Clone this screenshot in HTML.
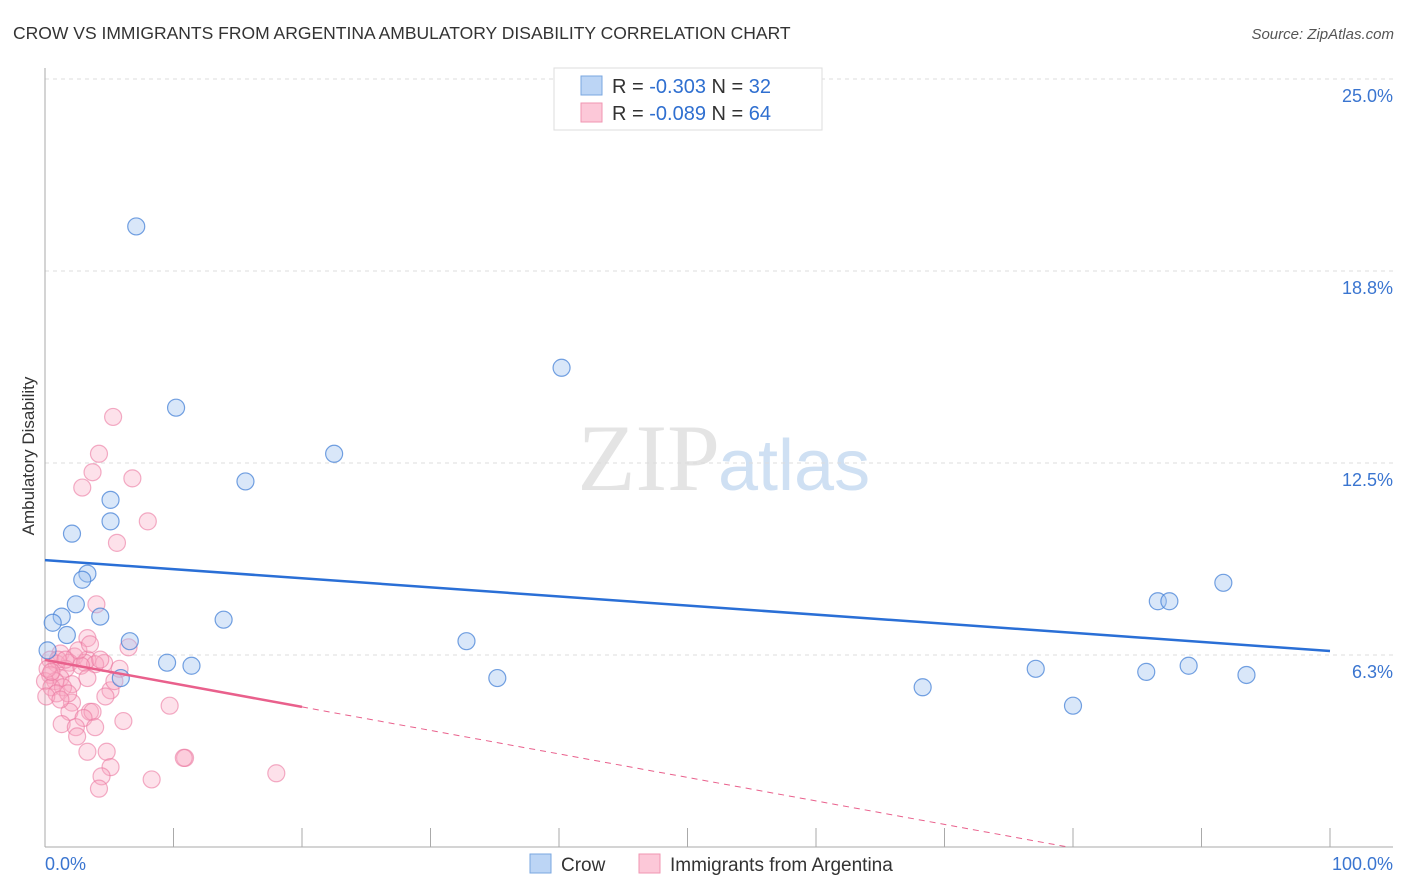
<!DOCTYPE html>
<html><head><meta charset="utf-8"><style>
body{margin:0;background:#fff;font-family:"Liberation Sans",sans-serif}
svg{display:block}
</style></head><body>
<svg id="chart" width="1406" height="892" xmlns="http://www.w3.org/2000/svg">
<text x="13" y="39" font-size="17.5" fill="#333">CROW VS IMMIGRANTS FROM ARGENTINA AMBULATORY DISABILITY CORRELATION CHART</text>
<text x="1394" y="39" font-size="15" fill="#555" text-anchor="end" font-style="italic">Source: ZipAtlas.com</text>
<text x="720" y="490" font-size="95" fill="#e4e4e4" text-anchor="end" font-family="Liberation Serif">ZIP</text>
<text x="718" y="490" font-size="72" fill="#cfe0f3">atlas</text>
<g id="grid"></g>
<g id="axes"></g>
<g id="marks"></g>
<g id="trends"></g>
<text transform="translate(34,456) rotate(-90)" font-size="17" fill="#333" text-anchor="middle">Ambulatory Disability</text>
<g>
<rect x="554" y="68" width="268" height="62" fill="#fff" stroke="#ddd"/>
<rect x="581" y="76" width="21" height="19" fill="#bcd5f5" stroke="#7aa7e0"/>
<rect x="581" y="103" width="21" height="19" fill="#fcc8d8" stroke="#f096b2"/>
<text x="612" y="93" font-size="20" fill="#333">R = <tspan fill="#2f6fd0">-0.303</tspan>   N = <tspan fill="#2f6fd0">32</tspan></text>
<text x="612" y="120" font-size="20" fill="#333">R = <tspan fill="#2f6fd0">-0.089</tspan>   N = <tspan fill="#2f6fd0">64</tspan></text>
</g>
<g>
<rect x="530" y="854" width="21" height="19" fill="#bcd5f5" stroke="#7aa7e0"/>
<text x="561" y="871" font-size="19" fill="#333">Crow</text>
<rect x="639" y="854" width="21" height="19" fill="#fcc8d8" stroke="#f096b2"/>
<text x="670" y="871" font-size="19" fill="#333">Immigrants from Argentina</text>
</g>
</svg>
<script>
const yTicks=[6.3,12.5,18.8,25.0];
const yTickVals=[6.25,12.5,18.75,25];
const xLabels=["0.0%","100.0%"];
const crowX=[7.1,10.2,40.2,22.5,15.6,5.1,5.1,2.1,3.3,2.9,2.4,1.3,4.3,0.6,13.9,1.7,6.6,0.2,32.8,9.5,11.4,5.9,35.2,68.3,77.1,80.0,85.7,89.0,93.5,86.6,87.5,91.7];
const crowY=[20.2,14.3,15.6,12.8,11.9,11.3,10.6,10.2,8.9,8.7,7.9,7.5,7.5,7.3,7.4,6.9,6.7,6.4,6.7,6.0,5.9,5.5,5.5,5.2,5.8,4.6,5.7,5.9,5.6,8.0,8.0,8.6];
const argX=[5.3,4.2,3.7,6.8,2.9,8.0,5.6,4.0,3.3,6.5,1.2,2.3,3.3,0.4,1.9,3.1,4.6,0.9,3.9,2.8,5.8,1.6,0.4,1.2,3.3,0.8,0.0,2.1,0.5,1.4,5.1,4.7,0.9,2.1,9.7,3.5,3.7,1.9,3.0,6.1,1.3,2.4,3.9,2.5,3.3,4.8,10.9,10.8,5.1,4.4,8.3,18.0,4.2,1.0,0.2,1.6,2.6,0.5,4.3,3.5,1.8,0.1,5.4,1.2];
const argY=[14.0,12.8,12.2,12.0,11.7,10.6,9.9,7.9,6.8,6.5,6.3,6.2,6.1,6.1,6.0,6.0,5.99,5.97,5.95,5.9,5.8,5.8,5.6,5.5,5.5,5.4,5.4,5.3,5.2,5.2,5.1,4.9,5.0,4.7,4.6,4.4,4.4,4.4,4.2,4.1,4.0,3.9,3.9,3.6,3.1,3.1,2.9,2.9,2.6,2.3,2.2,2.4,1.9,6.1,5.8,6.1,6.4,5.7,6.1,6.6,5.0,4.9,5.4,4.8];
const crowTrend=[9.34,6.38];
const argTrend=[6.09,-0.0765];
const X=v=>45+v*12.85, Y=v=>847-v*30.72;
const NS="http://www.w3.org/2000/svg";
function mk(t,a,p){const e=document.createElementNS(NS,t);for(const k in a)e.setAttribute(k,a[k]);p.appendChild(e);return e;}
const grid=document.getElementById('grid'),axes=document.getElementById('axes'),marks=document.getElementById('marks'),trends=document.getElementById('trends');
yTickVals.forEach((v,i)=>{
 const l=mk('line',{x1:45,x2:1393,y1:Y(v),y2:Y(v),stroke:'#ddd','stroke-dasharray':'4,4'},grid);
 
 
 const t=mk('text',{x:1393,y:Y(v)+23,'font-size':18,fill:'#3a75d0','text-anchor':'end'},axes);
 t.textContent=yTicks[i].toFixed(1)+'%';
 
 
});
const ax=mk('line',{x1:45,x2:45,y1:68,y2:847,stroke:'#aaa'},axes);


const bx=mk('line',{x1:45,x2:1393,y1:847,y2:847,stroke:'#aaa'},axes);


for(let i=0;i<=10;i++){const t=mk('line',{x1:X(i*10),x2:X(i*10),y1:828,y2:847,stroke:'#aaa'},axes);
 
 }
const xl0=mk('text',{x:45,y:870,'font-size':18,fill:'#3a75d0'},axes);xl0.textContent=xLabels[0];


const xl1=mk('text',{x:1393,y:870,'font-size':18,fill:'#3a75d0','text-anchor':'end'},axes);xl1.textContent=xLabels[1];


argX.forEach((x,i)=>{const c=mk('circle',{cx:X(x),cy:Y(argY[i]),r:8.5,fill:'rgba(248,170,195,0.35)',stroke:'rgba(235,120,160,0.6)','stroke-width':1.2},marks);
 
 });
crowX.forEach((x,i)=>{const c=mk('circle',{cx:X(x),cy:Y(crowY[i]),r:8.5,fill:'rgba(160,195,240,0.4)',stroke:'rgba(70,130,215,0.75)','stroke-width':1.2},marks);
 
 });
const bl=mk('line',{x1:X(0),y1:Y(crowTrend[0]),x2:X(100),y2:Y(crowTrend[1]),stroke:'#2a6fd6','stroke-width':2.5},trends);


const pl=mk('line',{x1:X(0),y1:Y(argTrend[0]),x2:X(20),y2:Y(argTrend[0]+argTrend[1]*20),stroke:'#e9608c','stroke-width':2.5},trends);


const xe=-argTrend[0]/argTrend[1];
const pd=mk('line',{x1:X(20),y1:Y(argTrend[0]+argTrend[1]*20),x2:X(xe),y2:Y(0),stroke:'#e9608c','stroke-width':1,'stroke-dasharray':'6,5'},trends);


</script>
</body></html>
